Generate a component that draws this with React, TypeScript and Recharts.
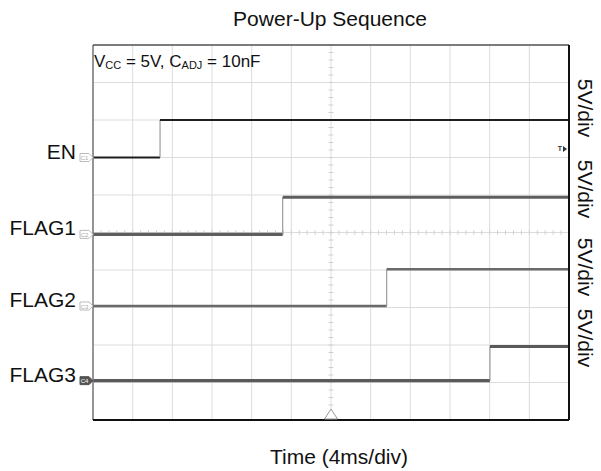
import React from 'react';
import { LineChart, Line, XAxis, YAxis, CartesianGrid, ReferenceLine, ReferenceDot } from 'recharts';

// time axis: ms, 12 divisions of 4 ms
const xTicks = [0, 4, 8, 12, 16, 20, 24, 28, 32, 36, 40, 44, 48];
// vertical axis: screen divisions (5 V/div), 10 divisions
const yTicks = [0, 1, 2, 3, 4, 5, 6, 7, 8, 9, 10];

const channelNames = ['EN', 'FLAG1', 'FLAG2', 'FLAG3'];
const channelIds = ['C1', 'C2', 'C3', 'C4'];
const stepTimes = [6.76, 19.13, 29.62, 40.03];
const lowLevels = [7.0, 4.95, 3.04, 1.05];
const highLevels = [8.0, 5.94, 4.02, 1.96];
const traceColors = ['#1e1e1e', '#5e5e5e', '#6a6a6a', '#5a5a5a'];
const traceWidths = [2, 3.2, 2.4, 3.2];

const rightLabels = ['5V/div', '5V/div', '5V/div', '5V/div'];
const rightLabelY = [108, 189, 267, 338];

const triggerTime = 24;
const triggerLevel = 7.23;

const X0 = 0;
const X1 = 48;

const FONT = '"Liberation Sans", Arial, Helvetica, sans-serif';

const W = 601;
const H = 471;

const minorX: number[] = [];
for (let t = 0.8; t < 48; t += 0.8) minorX.push(Math.round(t * 10) / 10);
const minorY: number[] = [];
for (let v = 0.2; v < 10; v += 0.2) minorY.push(Math.round(v * 10) / 10);

function ChannelMarker(props: any) {
  const { cx, cy, idx } = props;
  const filled = idx === 3;
  const x0 = cx - 13;
  const path = `M${x0},${cy - 4} L${cx - 4},${cy - 4} L${cx},${cy} L${cx - 4},${cy + 4} L${x0},${cy + 4} Z`;
  return (
    <g>
      <text x={cx - 17} y={cy + 1} textAnchor="end" fontSize={21} fill="#111" fontFamily={FONT}>
        {channelNames[idx]}
      </text>
      <path d={path} fill={filled ? '#555' : '#fff'} stroke={filled ? '#555' : '#bbb'} strokeWidth={1} />
      <text x={cx - 8.5} y={cy + 2.5} textAnchor="middle" fontSize={6} fill={filled ? '#fff' : '#aaa'} fontFamily={FONT}>
        {channelIds[idx]}
      </text>
    </g>
  );
}

function TriggerTimeMarker(props: any) {
  const { cx, cy } = props;
  return (
    <path d={`M${cx - 6.5},${cy - 1} L${cx + 6.5},${cy - 1} L${cx},${cy - 11} Z`} fill="#fff" stroke="#999" strokeWidth={1} />
  );
}

function TriggerLevelMarker(props: any) {
  const { cx, cy } = props;
  return (
    <g>
      <text x={cx - 9} y={cy + 2.5} fontSize={7} fontWeight="bold" fill="#333" fontFamily={FONT} textAnchor="middle">T</text>
      <path d={`M${cx - 6},${cy - 3} L${cx - 2},${cy} L${cx - 6},${cy + 3} Z`} fill="#333" />
    </g>
  );
}

export default function App() {
  return (
    <div style={{ position: 'absolute', left: 0, top: 0, width: W, height: H, background: '#fff' }}>
      <LineChart width={W} height={H} margin={{ top: 45, right: 32, bottom: 51, left: 93 }}>
        <XAxis type="number" dataKey="t" domain={[X0, X1]} ticks={xTicks} hide allowDataOverflow />
        <YAxis type="number" dataKey="v" domain={[0, 10]} ticks={yTicks} hide allowDataOverflow />
        <CartesianGrid stroke="#dcdcdc" strokeWidth={1} />
        {minorX.map((t) => (
          <ReferenceLine key={'mx' + t} segment={[{ x: t, y: 4.94 }, { x: t, y: 5.06 }]} stroke="#d0d0d0" strokeWidth={1} />
        ))}
        {minorY.map((v) => (
          <ReferenceLine key={'my' + v} segment={[{ x: 23.75, y: v }, { x: 24.25, y: v }]} stroke="#d0d0d0" strokeWidth={1} />
        ))}
        {channelNames.map((name, i) => (
          <Line
            key={name + 'lo'}
            data={[{ t: X0, v: lowLevels[i] }, { t: stepTimes[i], v: lowLevels[i] }]}
            dataKey="v"
            stroke={traceColors[i]}
            strokeWidth={traceWidths[i]}
            dot={false}
            isAnimationActive={false}
          />
        ))}
        {channelNames.map((name, i) => (
          <Line
            key={name + 'edge'}
            data={[{ t: stepTimes[i], v: lowLevels[i] }, { t: stepTimes[i], v: highLevels[i] }]}
            dataKey="v"
            stroke="#8a8a8a"
            strokeWidth={1}
            dot={false}
            isAnimationActive={false}
          />
        ))}
        {channelNames.map((name, i) => (
          <Line
            key={name + 'hi'}
            data={[{ t: stepTimes[i], v: highLevels[i] }, { t: X1, v: highLevels[i] }]}
            dataKey="v"
            stroke={traceColors[i]}
            strokeWidth={traceWidths[i]}
            dot={false}
            isAnimationActive={false}
          />
        ))}
        <ReferenceLine x={X0} stroke="#777" strokeWidth={1.5} />
        <ReferenceLine y={10} stroke="#555" strokeWidth={1.5} />
        <ReferenceLine x={X1} stroke="#111" strokeWidth={2} />
        <ReferenceLine y={0} stroke="#111" strokeWidth={2} />
        {channelNames.map((name, i) => (
          <ReferenceDot
            key={name + 'mk'}
            x={X0}
            y={lowLevels[i]}
            ifOverflow="visible"
            shape={(p: any) => <ChannelMarker {...p} idx={i} />}
          />
        ))}
        <ReferenceDot x={triggerTime} y={0} ifOverflow="visible" shape={(p: any) => <TriggerTimeMarker {...p} />} />
        <ReferenceDot x={X1} y={triggerLevel} ifOverflow="visible" shape={(p: any) => <TriggerLevelMarker {...p} />} />
      </LineChart>
      <svg width={W} height={H} style={{ position: 'absolute', left: 0, top: 0, pointerEvents: 'none' }}>
        <text x={330} y={26} textAnchor="middle" fontSize={21} fill="#111" fontFamily={FONT}>
          Power-Up Sequence
        </text>
        <text x={339} y={464} textAnchor="middle" fontSize={21} fill="#111" fontFamily={FONT}>
          Time (4ms/div)
        </text>
        <text x={94} y={67} fontSize={17} fill="#111" fontFamily={FONT}>
          <tspan>V</tspan>
          <tspan fontSize={11} dy={2}>CC</tspan>
          <tspan dy={-2}> = 5V, C</tspan>
          <tspan fontSize={11} dy={2}>ADJ</tspan>
          <tspan dy={-2}> = 10nF</tspan>
        </text>
        {rightLabels.map((s, i) => (
          <text
            key={'r' + i}
            transform={`translate(578,${rightLabelY[i]}) rotate(90)`}
            textAnchor="middle"
            fontSize={21}
            fill="#111"
            fontFamily={FONT}
          >
            {s}
          </text>
        ))}
      </svg>
    </div>
  );
}
